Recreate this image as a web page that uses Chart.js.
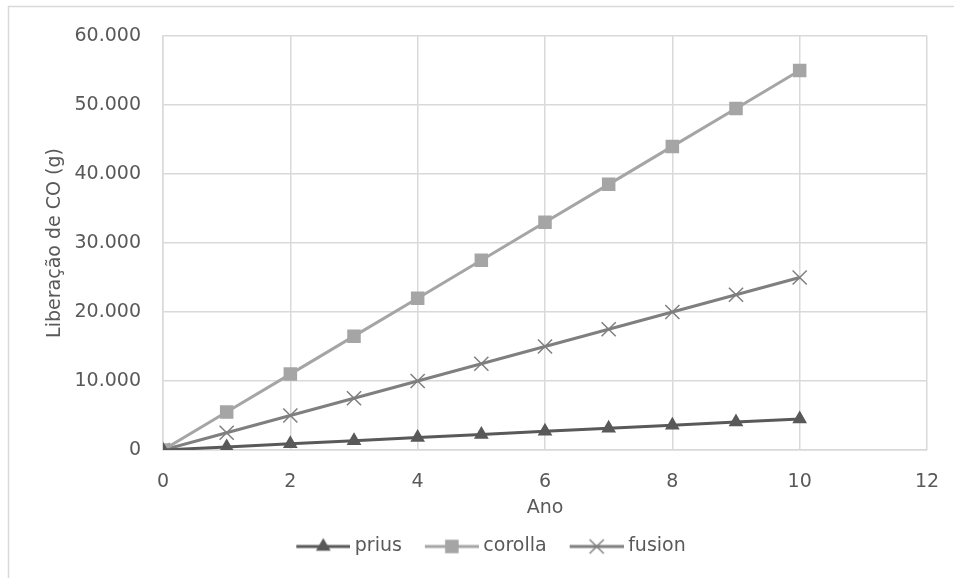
<!DOCTYPE html>
<html>
<head>
<meta charset="utf-8">
<script src="https://cdn.jsdelivr.net/npm/chart.js@4/dist/chart.umd.min.js"></script>
<style>
  html, body { margin: 0; padding: 0; background: #fff; }
  #wrap { width: 954px; height: 578px; }
</style>
</head>
<body>
<div id="wrap"><canvas id="coChart" width="954" height="578"></canvas></div>
<script>
// Data
const anos = [0, 1, 2, 3, 4, 5, 6, 7, 8, 9, 10];
const prius = [0, 450, 900, 1350, 1800, 2250, 2700, 3150, 3600, 4050, 4500];
const corolla = [0, 5500, 11000, 16500, 22000, 27500, 33000, 38500, 44000, 49500, 55000];
const fusion = [0, 2500, 5000, 7500, 10000, 12500, 15000, 17500, 20000, 22500, 25000];
const xTicks = [0, 2, 4, 6, 8, 10, 12];
const yTicks = [0, 10000, 20000, 30000, 40000, 50000, 60000];

const txt = '#595959';
const font = "'DejaVu Sans', sans-serif";

const pts = (ys) => anos.map((x, i) => ({ x: x, y: ys[i] }));
const fmt = (v) => String(v).replace(/\B(?=(\d{3})+(?!\d))/g, '.');

const series = [
    { label: 'prius', data: pts(prius), color: '#595959', style: 'triangle', radius: 7, width: 3 },
    { label: 'corolla', data: pts(corolla), color: '#a5a5a5', style: 'rect', radius: 8.5, width: 3 },
    { label: 'fusion', data: pts(fusion), color: '#7f7f7f', style: 'crossRot', radius: 10, width: 3 }
];

// legend swatch: short line with the marker in the middle
function swatch(s) {
    const c = document.createElement('canvas');
    c.width = 76; c.height = 20;
    const g = c.getContext('2d');
    g.strokeStyle = s.color; g.lineWidth = s.width;
    g.beginPath(); g.moveTo(22, 10); g.lineTo(76, 10); g.stroke();
    g.fillStyle = s.color; g.lineWidth = 1.5;
    Chart.helpers.drawPoint(g, { pointStyle: s.style, radius: s.radius, borderWidth: 1.5 }, 49, 10);
    return c;
}

const frame = {
    id: 'frame',
    beforeDraw(chart) {
        const c = chart.ctx;
        c.save();
        c.strokeStyle = '#d9d9d9'; c.lineWidth = 1.5;
        c.beginPath(); c.moveTo(8.5, 578); c.lineTo(8.5, 6.5); c.lineTo(954, 6.5); c.stroke();
        c.restore();
    }
};

new Chart(document.getElementById('coChart').getContext('2d'), {
    type: 'scatter',
    data: {
        datasets: series.map(s => ({
            label: s.label,
            data: s.data,
            showLine: true,
            borderColor: s.color,
            backgroundColor: s.color,
            borderWidth: s.width,
            pointStyle: s.style,
            pointRadius: s.radius,
            pointBorderWidth: 1.5,
            pointBorderColor: s.color,
            pointBackgroundColor: s.color,
            tension: 0
        }))
    },
    options: {
        responsive: false,
        animation: false,
        layout: { padding: { left: 38, right: 27, top: 36, bottom: 12 } },
        plugins: {
            tooltip: { enabled: false },
            legend: {
                position: 'bottom',
                labels: {
                    color: txt,
                    font: { family: font, size: 19 },
                    usePointStyle: true,
                    pointStyleWidth: 66,
                    padding: 6,
                    generateLabels(chart) {
                        return series.map((s, i) => ({
                            text: s.label,
                            fontColor: txt,
                            pointStyle: swatch(s),
                            datasetIndex: i,
                            hidden: false,
                            lineWidth: 0
                        }));
                    }
                }
            }
        },
        scales: {
            x: {
                type: 'linear',
                min: 0, max: 12,
                afterBuildTicks: (a) => { a.ticks = xTicks.map(v => ({ value: v })); },
                afterFit: (a) => { a.height = 81; a.paddingLeft = 0; a.paddingRight = 0; },
                ticks: { color: txt, font: { family: font, size: 19 }, padding: 21 },
                grid: { color: '#d9d9d9', lineWidth: 1.5, drawTicks: false },
                border: { color: '#d9d9d9', width: 1.5 },
                title: { display: true, text: 'Ano', color: txt, font: { family: font, size: 19 }, padding: { top: 4, bottom: 12 } }
            },
            y: {
                min: 0, max: 60000,
                afterBuildTicks: (a) => { a.ticks = yTicks.map(v => ({ value: v })); },
                afterFit: (a) => { a.width = 125; },
                ticks: { color: txt, font: { family: font, size: 19 }, padding: 22, callback: fmt },
                grid: { color: '#d9d9d9', lineWidth: 1.5, drawTicks: false },
                border: { color: '#d9d9d9', width: 1.5 },
                title: { display: true, text: 'Liberação de CO (g)', color: txt, font: { family: font, size: 19 }, padding: { top: 6, bottom: 0 } }
            }
        }
    },
    plugins: [frame]
});
</script>
</body>
</html>
